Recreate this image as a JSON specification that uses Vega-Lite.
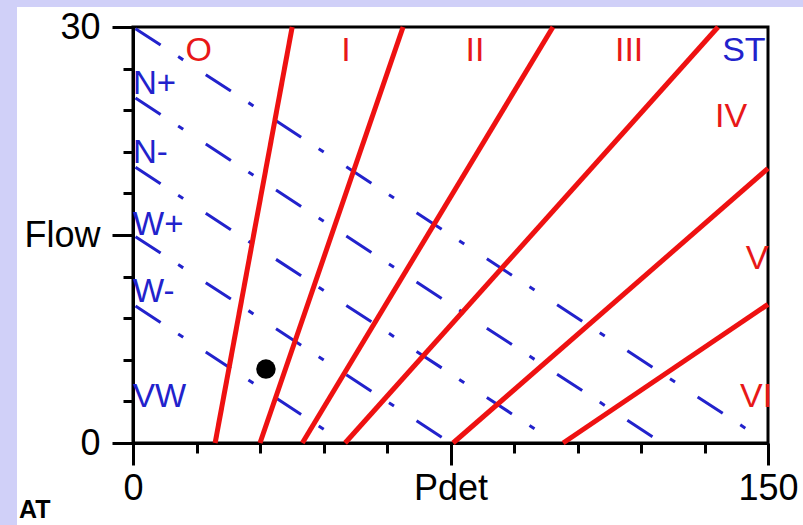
{
  "$schema": "https://vega.github.io/schema/vega-lite/v6.json",
  "width": 635,
  "height": 416,
  "autosize": "none",
  "padding": {"left": 133, "top": 27, "right": 35, "bottom": 82},
  "background": "white",
  "view": {"stroke": "black", "strokeWidth": 3, "fill": "white"},
  "config": {
    "axis": {
      "domainColor": "black",
      "domainWidth": 3,
      "tickColor": "black",
      "tickWidth": 3,
      "labelFont": "Liberation Sans",
      "labelFontSize": 36,
      "labelColor": "black",
      "grid": false,
      "labelOverlap": false,
      "labelFlush": false,
      "labelBound": false
    },
    "text": {"font": "Liberation Sans"}
  },
  "datasets": {
    "obstruction": [
      {"line": "L1", "Pdet": 19.4, "Flow": 0},
      {"line": "L1", "Pdet": 37.6, "Flow": 30},
      {"line": "L2", "Pdet": 30.0, "Flow": 0},
      {"line": "L2", "Pdet": 63.8, "Flow": 30},
      {"line": "L3", "Pdet": 40.0, "Flow": 0},
      {"line": "L3", "Pdet": 99.2, "Flow": 30},
      {"line": "L4", "Pdet": 50.1, "Flow": 0},
      {"line": "L4", "Pdet": 138.2, "Flow": 30},
      {"line": "L5", "Pdet": 75.6, "Flow": 0},
      {"line": "L5", "Pdet": 150, "Flow": 19.8},
      {"line": "L6", "Pdet": 101.6, "Flow": 0},
      {"line": "L6", "Pdet": 150, "Flow": 10.0}
    ],
    "contractility": [
      {"line": "c30", "Pdet": 0, "Flow": 30},
      {"line": "c30", "Pdet": 150, "Flow": 0},
      {"line": "c25", "Pdet": 0, "Flow": 25},
      {"line": "c25", "Pdet": 125, "Flow": 0},
      {"line": "c20", "Pdet": 0, "Flow": 20},
      {"line": "c20", "Pdet": 100, "Flow": 0},
      {"line": "c15", "Pdet": 0, "Flow": 15},
      {"line": "c15", "Pdet": 75, "Flow": 0},
      {"line": "c10", "Pdet": 0, "Flow": 10},
      {"line": "c10", "Pdet": 50, "Flow": 0}
    ],
    "zoneLabels": [
      {"label": "O", "Pdet": 15.5, "Flow": 28.3, "kind": "obstruction"},
      {"label": "I", "Pdet": 50.3, "Flow": 28.3, "kind": "obstruction"},
      {"label": "II", "Pdet": 80.8, "Flow": 28.3, "kind": "obstruction"},
      {"label": "III", "Pdet": 117.2, "Flow": 28.3, "kind": "obstruction"},
      {"label": "ST", "Pdet": 144.3, "Flow": 28.3, "kind": "contractility"},
      {"label": "IV", "Pdet": 141.3, "Flow": 23.5, "kind": "obstruction"},
      {"label": "V", "Pdet": 147.4, "Flow": 13.3, "kind": "obstruction"},
      {"label": "VI", "Pdet": 147.2, "Flow": 3.3, "kind": "obstruction"}
    ],
    "classLabels": [
      {"label": "N+", "Pdet": 0, "Flow": 25.9},
      {"label": "N-", "Pdet": 0, "Flow": 20.9},
      {"label": "W+", "Pdet": 0, "Flow": 15.7},
      {"label": "W-", "Pdet": 0, "Flow": 10.9},
      {"label": "VW", "Pdet": 0, "Flow": 3.3}
    ],
    "patient": [
      {"Pdet": 31.4, "Flow": 5.33}
    ]
  },
  "layer": [
    {
      "data": {"values": [{}]},
      "mark": {"type": "rect", "color": "#d0d0f8"},
      "encoding": {
        "x": {"datum": -31.42, "type": "quantitative", "scale": {"domain": [0, 150], "nice": false, "zero": false}, "axis": {"title": null}},
        "x2": {"datum": -27.4},
        "y": {"datum": 31.95, "type": "quantitative", "scale": {"domain": [0, 30], "nice": false, "zero": false}, "axis": {"title": null}},
        "y2": {"datum": -5.92}
      }
    },
    {
      "data": {"values": [{}]},
      "mark": {"type": "rect", "color": "#d0d0f8"},
      "encoding": {
        "x": {"datum": -31.42, "type": "quantitative", "axis": {"title": null}},
        "x2": {"datum": 158.3},
        "y": {"datum": 31.95, "type": "quantitative", "axis": {"title": null}},
        "y2": {"datum": 31.44}
      }
    },
    {
      "data": {"name": "contractility"},
      "mark": {"type": "line", "color": "#2222cc", "strokeWidth": 3, "strokeDash": [30, 21, 6, 27], "strokeDashOffset": 81},
      "encoding": {
        "x": {"field": "Pdet", "type": "quantitative", "axis": {"title": null}},
        "y": {"field": "Flow", "type": "quantitative", "axis": {"title": null}},
        "detail": {"field": "line"}
      }
    },
    {
      "data": {"name": "obstruction"},
      "mark": {"type": "line", "color": "#ee1111", "strokeWidth": 5},
      "encoding": {
        "x": {
          "field": "Pdet",
          "type": "quantitative",
          "axis": {
            "title": null,
            "values": [0, 15, 30, 45, 60, 75, 90, 105, 120, 135, 150],
            "tickSize": 22,
            "tickDash": {"condition": {"test": "datum.value % 75 === 0", "value": [22, 0]}, "value": [10, 30]},
            "labelExpr": "datum.value === 0 ? '0' : datum.value === 75 ? 'Pdet' : datum.value === 150 ? '150' : ''",
            "labelPadding": 6
          }
        },
        "y": {
          "field": "Flow",
          "type": "quantitative",
          "axis": {
            "title": null,
            "values": [0, 3, 6, 9, 12, 15, 18, 21, 24, 27, 30],
            "tickSize": 21,
            "tickDash": {"condition": {"test": "datum.value % 15 === 0", "value": [21, 0]}, "value": [10, 30]},
            "labelExpr": "datum.value === 0 ? '0' : datum.value === 15 ? 'Flow' : datum.value === 30 ? '30' : ''",
            "labelPadding": 12
          }
        },
        "detail": {"field": "line"}
      }
    },
    {
      "data": {"name": "patient"},
      "mark": {"type": "circle", "color": "black", "opacity": 1, "size": 380},
      "encoding": {
        "x": {"field": "Pdet", "type": "quantitative", "axis": {"title": null}},
        "y": {"field": "Flow", "type": "quantitative", "axis": {"title": null}}
      }
    },
    {
      "data": {"name": "zoneLabels"},
      "mark": {"type": "text", "fontSize": 34, "align": "center", "baseline": "middle"},
      "encoding": {
        "x": {"field": "Pdet", "type": "quantitative", "axis": {"title": null}},
        "y": {"field": "Flow", "type": "quantitative", "axis": {"title": null}},
        "text": {"field": "label"},
        "color": {"field": "kind", "type": "nominal", "scale": {"domain": ["obstruction", "contractility"], "range": ["#e81818", "#2222cc"]}, "legend": null}
      }
    },
    {
      "data": {"name": "classLabels"},
      "mark": {"type": "text", "fontSize": 33, "align": "left", "baseline": "middle", "color": "#2222cc"},
      "encoding": {
        "x": {"field": "Pdet", "type": "quantitative", "axis": {"title": null}},
        "y": {"field": "Flow", "type": "quantitative", "axis": {"title": null}},
        "text": {"field": "label"}
      }
    },
    {
      "data": {"values": [{}]},
      "mark": {"type": "text", "text": "AT", "fontSize": 25, "fontWeight": "bold", "align": "left", "baseline": "alphabetic", "color": "black"},
      "encoding": {
        "x": {"datum": -26.9, "type": "quantitative", "axis": {"title": null}},
        "y": {"datum": -5.4, "type": "quantitative", "axis": {"title": null}}
      }
    }
  ]
}
